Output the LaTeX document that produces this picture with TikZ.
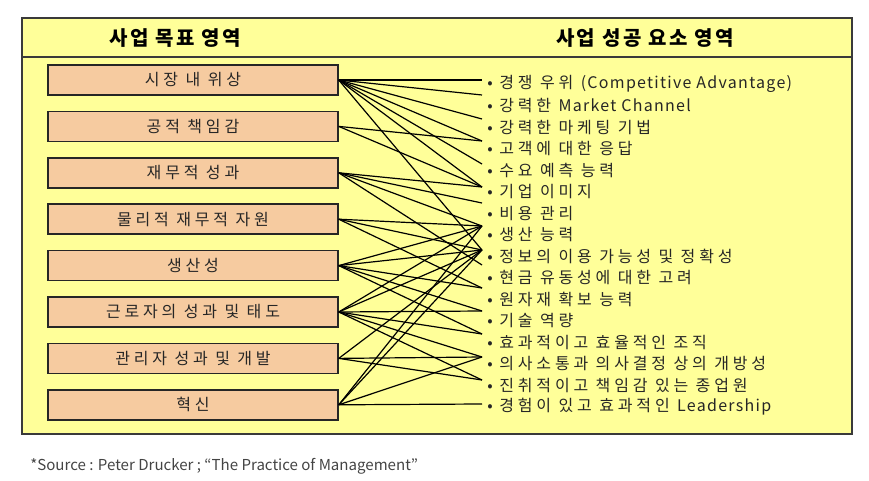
\documentclass[tikz,border=0pt]{standalone}
\usepackage{fontspec}
\setmainfont{Noto Sans CJK KR}
\newfontfamily\krfont[LetterSpace=24]{Noto Sans CJK KR}
\newfontfamily\enfont[LetterSpace=8]{Noto Sans CJK KR}
\newfontfamily\headfont[LetterSpace=12]{Noto Sans CJK KR}
\newcommand{\en}[1]{{\enfont #1}}
\usetikzlibrary{positioning}
\definecolor{paper}{HTML}{FFFF99}
\definecolor{peach}{HTML}{F6CBA0}
\definecolor{frame}{HTML}{3A3A3A}
\definecolor{ink}{HTML}{262626}
\definecolor{note}{HTML}{444444}
\tikzset{
  panel/.style={draw=frame, fill=paper, line width=1.3pt},
  head/.style={font=\headfont\fontsize{15}{17}\selectfont\bfseries, text=black, inner sep=0pt},
  goal/.style={rectangle, draw=black!85, fill=peach, line width=1.1pt, minimum width=217.5pt, minimum height=22.5pt, inner sep=0pt, font=\krfont\fontsize{12}{14}\selectfont, text=ink},
  factor/.style={anchor=west, inner sep=0pt, font=\krfont\fontsize{12}{14}\selectfont, text=ink},
  link/.style={draw=black, line width=0.9pt},
}

\begin{document}
\begin{tikzpicture}[x=0.75pt, y=-0.75pt]
  \useasboundingbox (0,0) rectangle (869,481);
  \draw[panel] (22,18) rectangle (852,434);
  \draw[frame, line width=2pt] (22,57) -- (852,57);
  \node[head] (lhead) at (175,38) {사업 목표 영역};
  \node[head] (rhead) at (645,38) {사업 성공 요소 영역};

  \foreach \i/\txt in {1/시장 내 위상, 2/공적 책임감, 3/재무적 성과, 4/물리적 재무적 자원,
                       5/생산성, 6/근로자의 성과 및 태도, 7/관리자 성과 및 개발, 8/혁신}
    \node[goal] (g\i) at (193,{80+46.4*(\i-1)}) {\txt};

  \foreach \i/\txt/\ey in {0/경쟁 우위 \en{(Competitive Advantage)}/80, 1/강력한 \en{Market Channel}/95,
                       2/강력한 마케팅 기법/119, 3/고객에 대한 응답/141, 4/수요 예측 능력/164,
                       5/기업 이미지/187, 6/비용 관리/203, 7/생산 능력/226,
                       8/정보의 이용 가능성 및 정확성/250, 9/현금 유동성에 대한 고려/265,
                       10/원자재 확보 능력/288, 11/기술 역량/311, 12/효과적이고 효율적인 조직/334,
                       13/의사소통과 의사결정 상의 개방성/357, 14/진취적이고 책임감 있는 종업원/380,
                       15/경험이 있고 효과적인 \en{Leadership}/404}
  {
    \node[factor] (f\i) at (487,{84+21.53*\i}) {•\hspace{5pt}\txt};
    \coordinate (e\i) at (482,\ey);
  }

  \foreach \a/\b in {1/0, 1/1, 1/2, 1/3, 1/4, 1/5, 1/8,
                     2/3, 2/5,
                     3/5, 3/6, 3/7, 3/9,
                     4/7, 4/8, 4/10,
                     5/7, 5/8, 5/10, 5/11, 5/12,
                     6/7, 6/8, 6/11, 6/12, 6/13, 6/14,
                     7/8, 7/13, 7/14,
                     8/7, 8/8, 8/13, 8/15}
    \draw[link] (g\a.east) -- (e\b);

  \node[anchor=west, inner sep=0pt, text=note, font=\fontsize{11.3}{13}\selectfont] (src) at (30,466) {*Source : Peter Drucker ; “The Practice of Management”};
\end{tikzpicture}
\end{document}
